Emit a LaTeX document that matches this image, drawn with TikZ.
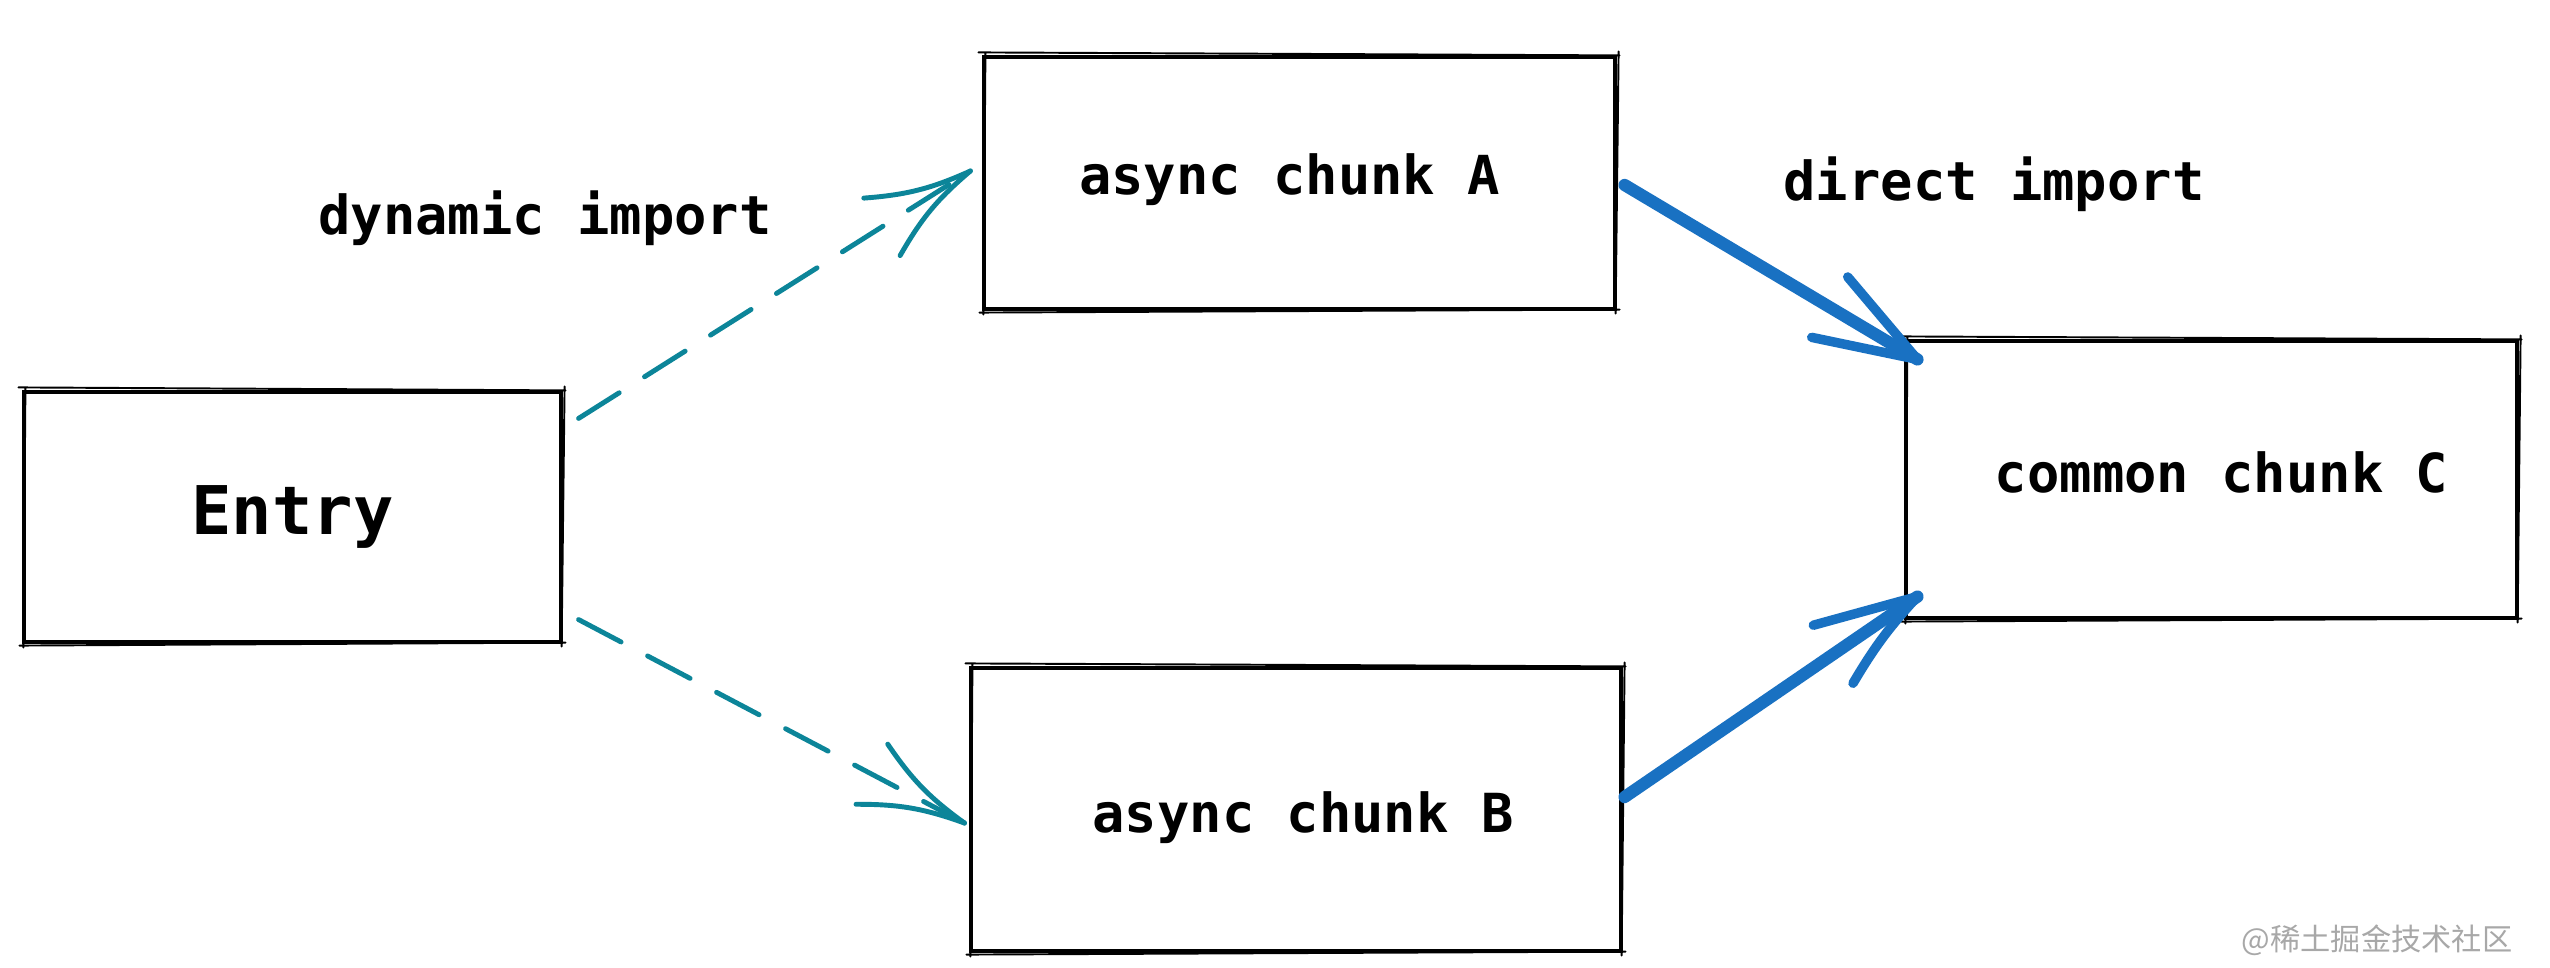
\documentclass[tikz,border=0pt]{standalone}
\usepackage{fontspec}
\newfontfamily\handfont{DejaVu Sans Mono}
\newfontfamily\cjkfont{Noto Sans CJK SC}
\usetikzlibrary{calc}
\definecolor{arrowteal}{HTML}{0C8599}
\definecolor{arrowblue}{HTML}{1971C2}
\definecolor{markgray}{HTML}{A8A8A8}
\tikzset{
  box/.style={draw=black, line width=0.9pt, rectangle, inner sep=0pt},
  roughline/.style={draw=black, line width=0.55pt, line cap=round},
  lbl/.style={font=\handfont\bfseries\fontsize{15.3}{18}\selectfont, inner sep=0pt},
  biglbl/.style={font=\handfont\bfseries\fontsize{19.1}{22}\selectfont, inner sep=0pt},
  tealline/.style={draw=arrowteal, line width=1.4pt, line cap=round},
  tealdash/.style={tealline, dash pattern=on 0.48cm off 0.30cm},
  blueline/.style={draw=arrowblue, line width=3.5pt, line cap=round},
  bluebarb/.style={draw=arrowblue, line width=2.7pt, line cap=round},
}
\newcommand\roughbox[1]{%
  \draw[roughline] ([shift={(-0.04,0.03)}]#1.north west) -- ([shift={(0.03,0.00)}]#1.north east)
    ([shift={(0.02,0.04)}]#1.north east) -- ([shift={(-0.01,-0.03)}]#1.south east)
    ([shift={(0.03,0.01)}]#1.south east) -- ([shift={(-0.03,-0.02)}]#1.south west)
    ([shift={(0.01,-0.04)}]#1.south west) -- ([shift={(0.03,0.03)}]#1.north west);}
\begin{document}
\begin{tikzpicture}
\useasboundingbox (0,0) rectangle (25.5,-9.68);
\fill[white] (0,0) rectangle (25.5,-9.68);

% boxes
\node[box, minimum width=5.37cm, minimum height=2.50cm] (entry) at (2.925,-5.17) {};
\node[box, minimum width=6.31cm, minimum height=2.52cm] (chunkA) at (12.995,-1.83) {};
\node[box, minimum width=6.50cm, minimum height=2.83cm] (chunkB) at (12.96,-8.095) {};
\node[box, minimum width=6.11cm, minimum height=2.77cm] (chunkC) at (22.115,-4.795) {};
\roughbox{entry}
\roughbox{chunkA}
\roughbox{chunkB}
\roughbox{chunkC}

% box texts
\node[biglbl] (entrytxt) at ($(entry.center)+(0.0,0.0)$) {Entry};
\node[lbl] (atxt) at ($(chunkA.center)+(-0.10,0.03)$) {async chunk A};
\node[lbl] (btxt) at ($(chunkB.center)+(0.07,-0.08)$) {async chunk B};
\node[lbl] (ctxt) at ($(chunkC.center)+(0.10,0.07)$) {common chunk C};

% labels
\node[lbl] (dynlbl) at (5.45,-2.18) {dynamic import};
\node[lbl] (dirlbl) at (19.94,-1.84) {direct import};

% connector end points
\coordinate (t1s) at ($(entry.north east)+(0.16,-0.28)$);
\coordinate (t1e) at ($(chunkA.west)+(-0.12,0.12)$);
\coordinate (t2s) at ($(entry.south east)+(0.16,0.24)$);
\coordinate (t2e) at ($(chunkB.west)+(-0.05,-0.135)$);
\coordinate (b1s) at ($(chunkA.east)+(0.08,-0.02)$);
\coordinate (b1e) at ($(chunkC.north west)+(0.13,-0.20)$);
\coordinate (b2s) at ($(chunkB.east)+(0.02,0.125)$);
\coordinate (b2e) at ($(chunkC.south west)+(0.13,0.23)$);

% dynamic imports
\draw[tealdash] (t1s) -- (t1e);
\draw[tealline] ($(t1e)!1.1cm!18:(t1s)$) to[bend left=10] (t1e);
\draw[tealline] ($(t1e)!1.1cm!-18:(t1s)$) to[bend right=10] (t1e);
\draw[tealdash] (t2s) -- (t2e);
\draw[tealline] ($(t2e)!1.1cm!18:(t2s)$) to[bend left=10] (t2e);
\draw[tealline] ($(t2e)!1.1cm!-18:(t2s)$) to[bend right=10] (t2e);

% direct imports
\draw[blueline] (b1s) -- (b1e);
\draw[bluebarb] ($(b1e)!1.08cm!19:(b1s)$) -- (b1e);
\draw[bluebarb] ($(b1e)!1.08cm!-19:(b1s)$) -- (b1e);
\draw[blueline] (b2s) -- (b2e);
\draw[bluebarb] ($(b2e)!1.08cm!19:(b2s)$) to[bend left=6] (b2e);
\draw[bluebarb] ($(b2e)!1.08cm!-19:(b2s)$) -- (b2e);

% watermark
\node[inner sep=0pt, text=markgray, font=\cjkfont\fontsize{8.6}{10}\selectfont] (mark) at (23.77,-9.40) {@稀土掘金技术社区};
\end{tikzpicture}
\end{document}
